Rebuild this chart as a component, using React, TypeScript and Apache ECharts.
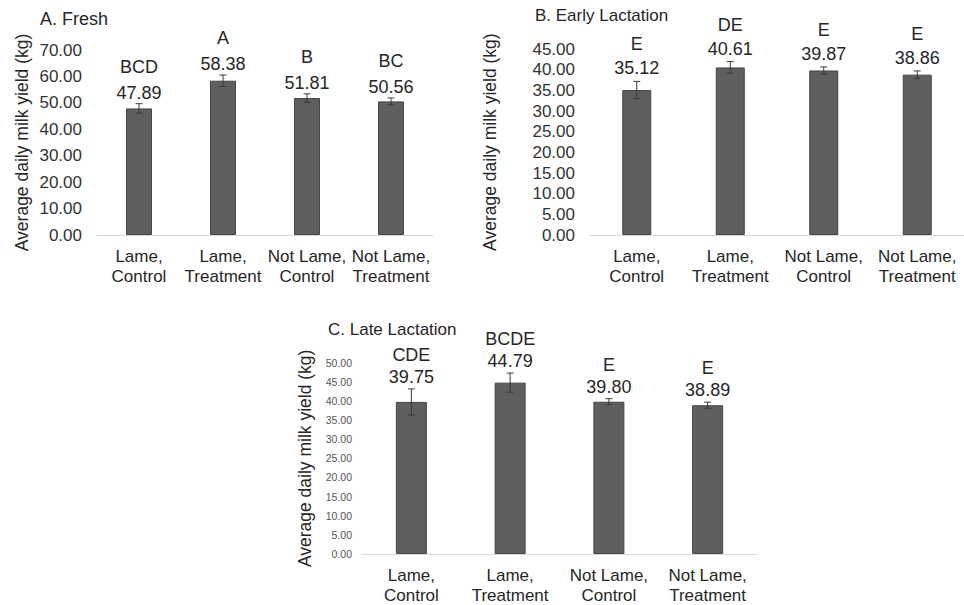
import React, { useEffect, useRef } from "react";
import * as echarts from "echarts";

const categories = ["Lame,\nControl", "Lame,\nTreatment", "Not Lame,\nControl", "Not Lame,\nTreatment"];

const freshValues = [47.89, 58.38, 51.81, 50.56];
const freshErrors = [1.8, 2.15, 1.6, 1.3];
const freshLetters = ["BCD", "A", "B", "BC"];

const earlyValues = [35.12, 40.61, 39.87, 38.86];
const earlyErrors = [2.1, 1.4, 0.85, 0.9];
const earlyLetters = ["E", "DE", "E", "E"];

const lateValues = [39.75, 44.79, 39.8, 38.89];
const lateErrors = [3.4, 2.5, 0.8, 0.8];
const lateLetters = ["CDE", "BCDE", "E", "E"];

const panelTitles = ["A. Fresh", "B. Early Lactation", "C. Late Lactation"];
const yAxisTitle = "Average daily milk yield (kg)";
const yMax = [70, 45, 50];
const yInterval = [10, 5, 5];

const FONT = "'Liberation Sans', Arial, Helvetica, sans-serif";
const TEXT = "#262626";
const BAR = "#5f5f5f";
const BAR_BORDER = "#454545";
const ERR = "#3a3a3a";

export default function App() {
  const ref = useRef<HTMLDivElement>(null);
  useEffect(() => {
    if (!ref.current) return;
    const chart = echarts.init(ref.current, undefined, { renderer: "svg" });

    const panels = [
      { values: freshValues, errors: freshErrors, letters: freshLetters, grid: { left: 97, top: 50, width: 336, height: 185 }, barWidth: 26, yFont: 17, yMargin: 15, valGap: 11, letGap: 26 },
      { values: earlyValues, errors: earlyErrors, letters: earlyLetters, grid: { left: 590, top: 49.3, width: 380, height: 185.7 }, barWidth: 29, yFont: 17, yMargin: 15, valGap: 13, letGap: 24 },
      { values: lateValues, errors: lateErrors, letters: lateLetters, grid: { left: 362, top: 362.7, width: 395, height: 192.3 }, barWidth: 31, yFont: 10.5, yMargin: 10, valGap: 12, letGap: 22 },
    ];

    const grids: any[] = [];
    const xAxes: any[] = [];
    const yAxes: any[] = [];
    const series: any[] = [];

    panels.forEach((p, i) => {
      grids.push({ ...p.grid, containLabel: false });
      xAxes.push({
        type: "category",
        gridIndex: i,
        data: categories,
        axisTick: { show: false },
        axisLine: { lineStyle: { color: "#d9d9d9", width: 1.2 } },
        axisLabel: { interval: 0, fontSize: 17, lineHeight: 20, color: TEXT, margin: 11, fontFamily: FONT },
      });
      yAxes.push({
        type: "value",
        gridIndex: i,
        min: 0,
        max: yMax[i],
        interval: yInterval[i],
        axisLine: { show: false },
        axisTick: { show: false },
        splitLine: { show: false },
        axisLabel: {
          formatter: (v: number) => v.toFixed(2),
          fontSize: p.yFont,
          color: i === 2 ? "#555" : "#333",
          margin: p.yMargin,
          fontFamily: FONT,
        },
        name: yAxisTitle,
        nameLocation: "middle",
        nameRotate: 90,
        nameGap: i === 0 ? 66 : i === 1 ? 91 : 48,
        nameTextStyle: { fontSize: 17.5, color: TEXT, fontFamily: FONT },
      });
      series.push({
        type: "bar",
        xAxisIndex: i,
        yAxisIndex: i,
        data: p.values,
        barWidth: p.barWidth,
        itemStyle: { color: BAR, borderColor: BAR_BORDER, borderWidth: 1 },
      });
      series.push({
        type: "custom",
        xAxisIndex: i,
        yAxisIndex: i,
        data: p.values.map((v, k) => [k, v, p.errors[k]]),
        encode: { x: 0, y: 1 },
        z: 5,
        renderItem: (params: any, api: any) => {
          const idx = api.value(0);
          const v = api.value(1);
          const e = api.value(2);
          const top = api.coord([idx, v + e]);
          const bot = api.coord([idx, v - e]);
          const cap = 3.5;
          const ls = { stroke: ERR, lineWidth: 1 };
          return {
            type: "group",
            children: [
              { type: "line", shape: { x1: top[0], y1: top[1], x2: bot[0], y2: bot[1] }, style: ls },
              { type: "line", shape: { x1: top[0] - cap, y1: top[1], x2: top[0] + cap, y2: top[1] }, style: ls },
              { type: "line", shape: { x1: bot[0] - cap, y1: bot[1], x2: bot[0] + cap, y2: bot[1] }, style: ls },
              {
                type: "text",
                x: top[0],
                y: top[1] - p.valGap,
                style: { text: v.toFixed(2), fontSize: 18, fill: TEXT, align: "center", verticalAlign: "middle", fontFamily: FONT },
              },
              {
                type: "text",
                x: top[0],
                y: top[1] - p.valGap - p.letGap,
                style: { text: p.letters[params.dataIndex], fontSize: 18, fill: TEXT, align: "center", verticalAlign: "middle", fontFamily: FONT },
              },
            ],
          };
        },
      });
    });

    chart.setOption({
      animation: false,
      backgroundColor: "#ffffff",
      grid: grids,
      xAxis: xAxes,
      yAxis: yAxes,
      series,
      graphic: [
        { type: "text", left: 40, top: 10, style: { text: panelTitles[0], fontSize: 18, fill: TEXT, fontFamily: FONT } },
        { type: "text", left: 535, top: 7, style: { text: panelTitles[1], fontSize: 17, fill: TEXT, fontFamily: FONT } },
        { type: "text", left: 328, top: 321, style: { text: panelTitles[2], fontSize: 17, fill: TEXT, fontFamily: FONT } },
      ],
    });
    return () => chart.dispose();
  }, []);
  return <div ref={ref} style={{ position: "fixed", left: 0, top: 0, width: 964, height: 605 }} />;
}
